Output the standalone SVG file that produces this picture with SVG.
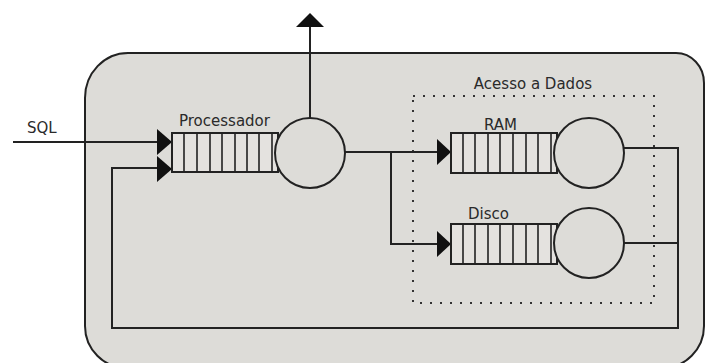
<svg xmlns="http://www.w3.org/2000/svg" width="705" height="363" viewBox="0 0 705 363">
<defs>
<style>
.ln{fill:none;stroke:#222;stroke-width:2}
.q{fill:#e4e2df;stroke:#222;stroke-width:2}
.dv{stroke:#222;stroke-width:1.6}
.c{fill:#dddcd8;stroke:#222;stroke-width:2}
.t{font-family:"DejaVu Sans",sans-serif;font-size:15px;fill:#2a2a2a}
.ah{fill:#111}
</style>
</defs>
<rect width="705" height="363" fill="#ffffff"/>
<g id="system">
<path d="M128 53 H676 A28 30 0 0 1 704 83 V326 A42 42 0 0 1 662 368 H127 A42 42 0 0 1 85 326 V98 A43 45 0 0 1 128 53 Z" fill="#dddcd8" stroke="#222" stroke-width="2"/>
</g>
<g id="acesso">
<rect x="413" y="96" width="241" height="207" fill="none" stroke="#333" stroke-width="2" stroke-dasharray="2 8"/>
<text class="t" x="533" y="89" text-anchor="middle">Acesso a Dados</text>
</g>
<g id="connectors">
<path class="ln" d="M13 142 H160"/>
<path class="ln" d="M310 118 V24"/>
<polygon class="ah" points="296,27 310,13 324,27"/>
<path class="ln" d="M345 152 H440"/>
<path class="ln" d="M391 152 V244 H440"/>
<path class="ln" d="M624 148 H678 V328 H112 V168 H160"/>
<path class="ln" d="M624 243 H678"/>
<polygon class="ah" points="157,129 172,142 157,155"/>
<polygon class="ah" points="157,156 172,169 157,182"/>
<polygon class="ah" points="437,139 451,152 437,165"/>
<polygon class="ah" points="437,231 451,244 437,257"/>
</g>
<g id="processador">
<rect class="q" x="172" y="133" width="106" height="39"/>
<path class="dv" d="M184 133V172M197 133V172M210 133V172M222 133V172M235 133V172M247 133V172M259 133V172M272 133V172"/>
<circle class="c" cx="310" cy="153" r="35"/>
<text class="t" x="179" y="126">Processador</text>
</g>
<g id="sql-label">
<text class="t" x="27" y="133">SQL</text>
</g>
<g id="ram">
<rect class="q" x="451" y="133" width="106" height="40"/>
<path class="dv" d="M463 133V173M475 133V173M488 133V173M500 133V173M513 133V173M526 133V173M538 133V173M551 133V173"/>
<circle class="c" cx="589" cy="153" r="35"/>
<text class="t" x="484" y="130">RAM</text>
</g>
<g id="disco">
<rect class="q" x="451" y="224" width="106" height="40"/>
<path class="dv" d="M463 224V264M475 224V264M488 224V264M500 224V264M513 224V264M526 224V264M538 224V264M551 224V264"/>
<circle class="c" cx="589" cy="243" r="35"/>
<text class="t" x="468" y="219">Disco</text>
</g>
</svg>
